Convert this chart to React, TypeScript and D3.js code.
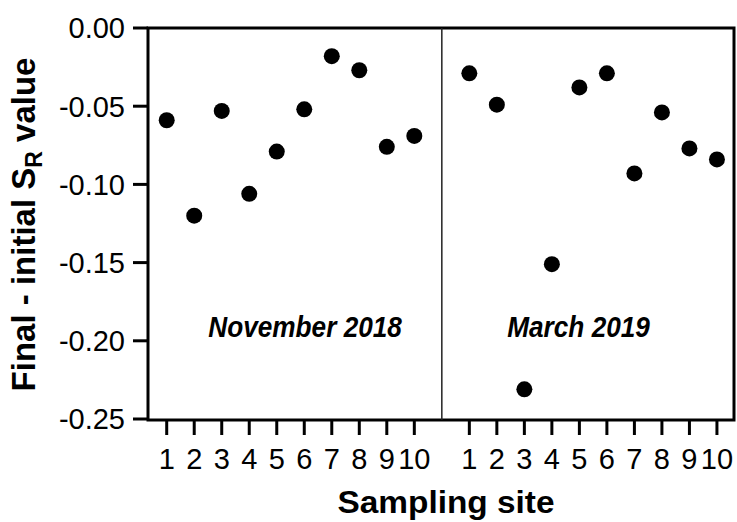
import React from "react";
import * as d3 from "d3";

const SITES = [1, 2, 3, 4, 5, 6, 7, 8, 9, 10];
const NOV_2018 = [-0.059, -0.12, -0.053, -0.106, -0.079, -0.052, -0.018, -0.027, -0.076, -0.069];
const MAR_2019 = [-0.029, -0.049, -0.231, -0.151, -0.038, -0.029, -0.093, -0.054, -0.077, -0.084];
const GROUP_LABELS = ["November 2018", "March 2019"];
const Y_TICKS = [0, -0.05, -0.1, -0.15, -0.2, -0.25];

const W = 737;
const H = 522;
const LEFT = 148;
const RIGHT = 734;
const TOP = 28;
const BOTTOM = 420;
const FONT = "'Liberation Sans', Arial, Helvetica, sans-serif";

// slot index: group 0 -> 0..9, gap at 10, group 1 -> 11..20
const slot = (group: number, i: number) => group * 11 + i;
// campaign label centres, in slot units
const LABEL_SLOTS = [5.03, 14.97];

export default function App() {
  const x = d3.scaleLinear().domain([-0.68, 20.62]).range([LEFT, RIGHT]);
  const y = d3.scaleLinear().domain([-0.25, 0]).range([419, TOP]);

  const groups = [NOV_2018, MAR_2019];
  const points = groups.flatMap((vals, g) =>
    vals.map((v, i) => ({ k: slot(g, i), v }))
  );
  const ticks = groups.flatMap((_, g) =>
    SITES.map((s, i) => ({ k: slot(g, i), label: String(s) }))
  );
  // plain hyphen instead of d3's unicode minus
  const fmt = (v: number) => d3.format(".2f")(v).replace("\u2212", "-");

  return (
    <svg
      width={W}
      height={H}
      style={{ position: "absolute", left: 0, top: 0, background: "#fff" }}
      fontFamily={FONT}
    >
      {/* frame */}
      <rect
        x={LEFT}
        y={TOP}
        width={RIGHT - LEFT}
        height={BOTTOM - TOP}
        fill="none"
        stroke="#000"
        strokeWidth={3}
      />
      {/* divider between sampling campaigns */}
      <line
        x1={x(10)}
        x2={x(10)}
        y1={TOP}
        y2={BOTTOM}
        stroke="#222"
        strokeWidth={1.5}
      />

      {/* y axis ticks */}
      {Y_TICKS.map((t) => (
        <g key={t}>
          <line x1={LEFT - 15} x2={LEFT} y1={y(t)} y2={y(t)} stroke="#000" strokeWidth={3} />
          <text
            x={LEFT - 23}
            y={y(t)}
            dy="0.36em"
            textAnchor="end"
            fontSize={29}
            fill="#000"
          >
            {fmt(t)}
          </text>
        </g>
      ))}

      {/* x axis ticks */}
      {ticks.map((t) => (
        <g key={t.k}>
          <line x1={x(t.k)} x2={x(t.k)} y1={BOTTOM} y2={BOTTOM + 15} stroke="#000" strokeWidth={3} />
          <text x={x(t.k)} y={469} textAnchor="middle" fontSize={29} fill="#000">
            {t.label}
          </text>
        </g>
      ))}

      {/* points */}
      {points.map((p) => (
        <circle key={p.k} cx={x(p.k)} cy={y(p.v)} r={8} fill="#000" />
      ))}

      {/* campaign labels */}
      {GROUP_LABELS.map((lab, g) => (
        <text
          key={lab}
          transform={`translate(${x(LABEL_SLOTS[g])},337) scale(1,1.1)`}
          textAnchor="middle"
          fontSize={26.2}
          fontWeight="bold"
          fontStyle="italic"
          fill="#000"
        >
          {lab}
        </text>
      ))}

      {/* axis titles */}
      <text
        x={446}
        y={513}
        textAnchor="middle"
        fontSize={31}
        fontWeight="bold"
        fill="#000"
        textLength={217}
        lengthAdjust="spacingAndGlyphs"
      >
        Sampling site
      </text>
      <text
        transform={`translate(35,${(57 + 392) / 2}) rotate(-90)`}
        textAnchor="middle"
        fontSize={33}
        fontWeight="bold"
        fill="#000"
      >
        Final - initial S
        <tspan fontSize={23} dy={7}>R</tspan>
        <tspan dy={-7}> value</tspan>
      </text>
    </svg>
  );
}
